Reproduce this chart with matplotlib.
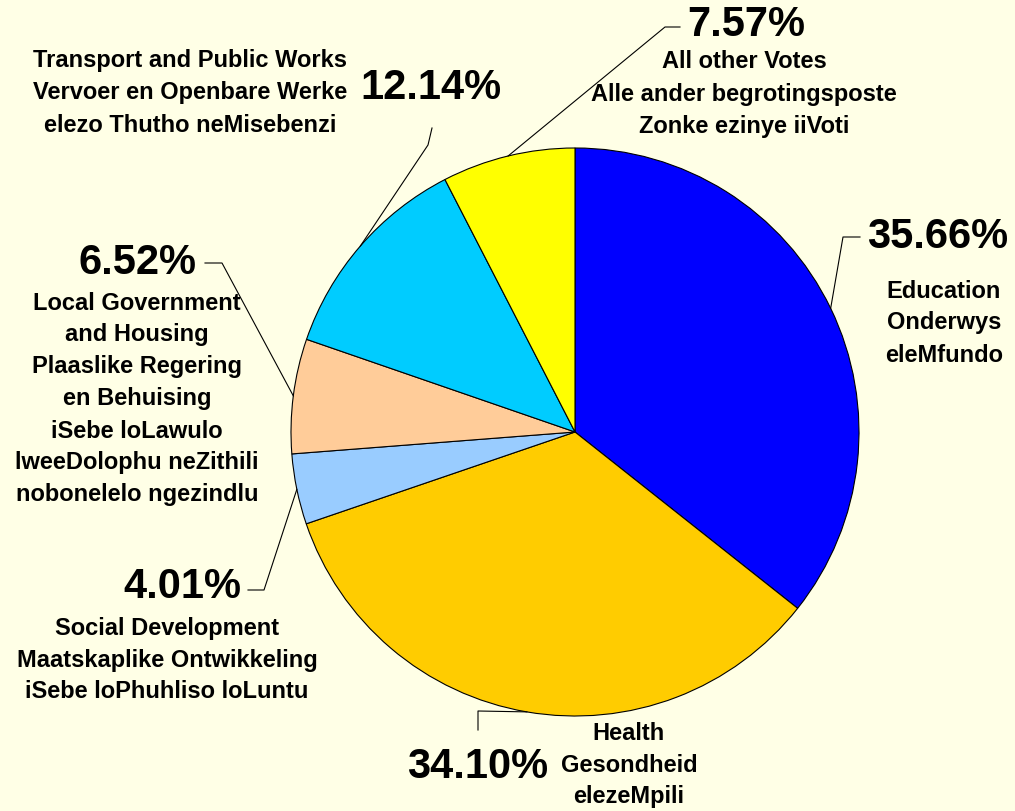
import matplotlib.pyplot as plt
from matplotlib.patches import Rectangle
import numpy as np

plt.rcParams['font.family'] = ['Liberation Sans', 'DejaVu Sans']

# data (clockwise from 12 o'clock)
names = ["Education\nOnderwys\neleMfundo",
         "Health\nGesondheid\nelezeMpili",
         "Social Development\nMaatskaplike Ontwikkeling\niSebe loPhuhliso loLuntu",
         "Local Government\nand Housing\nPlaaslike Regering\nen Behuising\niSebe loLawulo\nlweeDolophu neZithili\nnobonelelo ngezindlu",
         "Transport and Public Works\nVervoer en Openbare Werke\nelezo Thutho neMisebenzi",
         "All other Votes\nAlle ander begrotingsposte\nZonke ezinye iiVoti"]
shares = [35.66, 34.10, 4.01, 6.52, 12.14, 7.57]
colors = ["#0000FF", "#FFCC00", "#99CCFF", "#FFCC99", "#00CCFF", "#FFFF00"]

bg = "#FFFFE6"
fig = plt.figure(figsize=(10.15, 8.11), dpi=100, facecolor=bg)
ax = fig.add_axes([0, 0, 1, 1])
ax.set_facecolor(bg)

cx, cy, r = 575, 432, 284
# y axis is inverted below, so counterclock in data = clockwise on screen
wedges, _ = ax.pie(shares, colors=colors, startangle=-90, counterclock=True,
                   center=(cx, cy), radius=r,
                   wedgeprops=dict(edgecolor="black", linewidth=0.8))

ax.set_xlim(0, 1015)
ax.set_ylim(811, 0)
ax.set_aspect("equal")
ax.axis("off")

# label layout: (pct x, pct y), (name x, name centre y), leader elbow, leader end
layout = [
    ((938, 237), (944, 323), (843, 237), (860, 237)),
    ((478, 767), (629, 765), (478, 711), (478, 730)),
    ((182, 587), (167, 660), (264, 590), (248, 590)),
    ((138, 263), (137, 399), (222, 263), (205, 263)),
    ((431, 88), (190, 93), (428, 145), (432, 128)),
    ((746, 25), (744, 94), (665, 27), (680, 27)),
]

for i, w in enumerate(wedges):
    ang = np.deg2rad((w.theta1 + w.theta2) / 2)
    px = cx + r * np.cos(ang)
    py = cy + r * np.sin(ang)
    (tx, ty), (nx, ny), (ex, ey), (fx, fy) = layout[i]
    ax.plot([px, ex, fx], [py, ey, fy], color="black", lw=0.8, zorder=1)
    ax.text(tx, ty, f"{shares[i]:.2f}%", fontsize=30, fontweight="bold",
            ha="center", va="center")
    t = ax.text(nx, ny, names[i], fontsize=17, fontweight="bold",
                ha="center", va="center", linespacing=1.5, zorder=3)
    if i == 3:
        # text box in the original cuts off the last line
        clip = Rectangle((0, 280), 400, 224, transform=ax.transData)
        t.set_clip_path(clip)

fig.savefig("out.png", dpi=100, facecolor=bg)
